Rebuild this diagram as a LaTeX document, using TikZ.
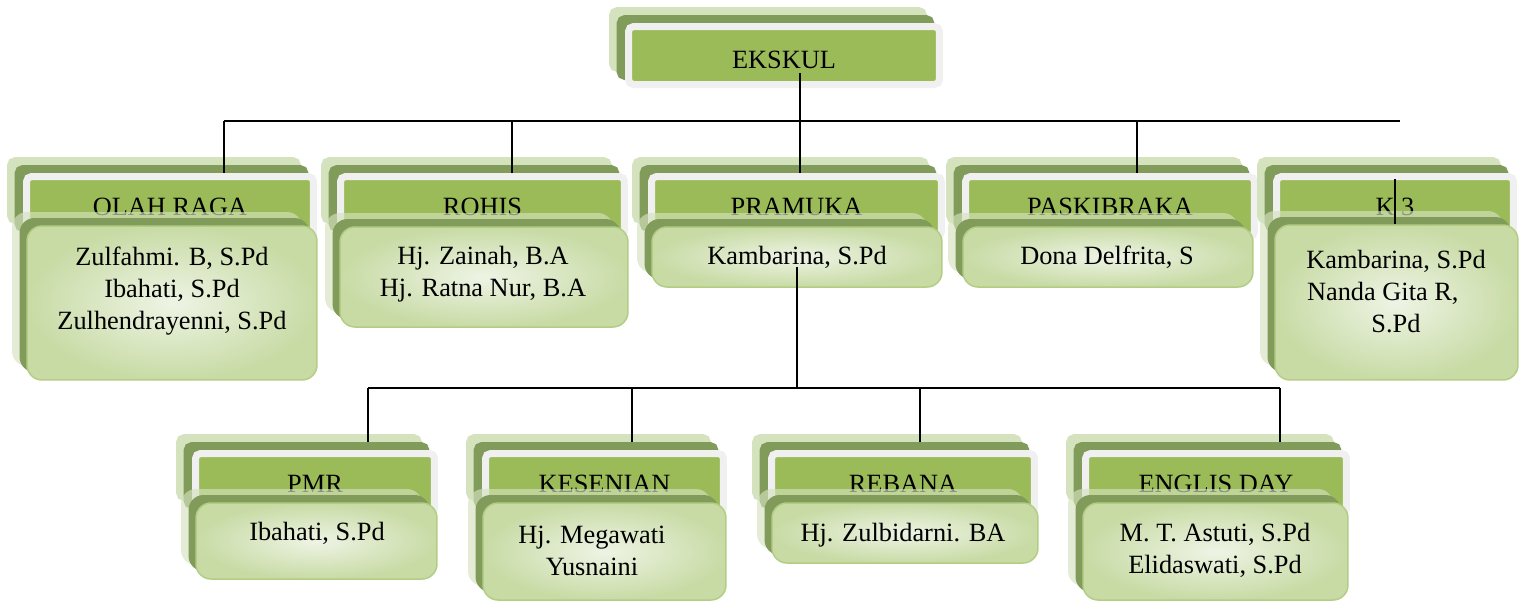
\documentclass[tikz,border=0pt]{standalone}
\usepackage{fontspec}
\setmainfont{Liberation Serif}
\usetikzlibrary{shadows}

\definecolor{titlegreen}{HTML}{9BBB59}
\definecolor{framegray}{HTML}{F0F0F0}
\definecolor{shadedark}{HTML}{809B5A}
\definecolor{shadelight}{HTML}{D5E2BE}
\definecolor{nameinner}{HTML}{EEF4E5}
\definecolor{nameouter}{HTML}{C8DBA5}
\definecolor{nameedge}{HTML}{B3CD85}

\begin{document}
\begin{tikzpicture}[x=0.02cm, y=-0.02cm,
	every node/.style={font=\fontsize{15}{18.2}\selectfont},
	titlebox/.style={rectangle, rounded corners=0.1cm, fill=titlegreen, draw=framegray, line width=0.14cm, minimum height=1.2cm, inner sep=0pt,
		general shadow={shadow xshift=-0.32cm, shadow yshift=0.32cm, fill=shadelight, draw=shadelight},
		general shadow={shadow xshift=-0.17cm, shadow yshift=0.16cm, fill=shadedark, draw=shadedark}},
	namebox/.style={rectangle, rounded corners=0.3cm, inner color=nameinner, outer color=nameouter, draw=nameedge, line width=0.03cm, inner sep=0pt,
		general shadow={shadow xshift=-0.3cm, shadow yshift=0.28cm, fill=shadelight, draw=none, opacity=0.65},
		general shadow={shadow xshift=-0.15cm, shadow yshift=0.16cm, fill=shadedark, draw=none}},
	nametext/.style={align=center, inner sep=0pt},
	link/.style={line width=0.035cm}]
	\useasboundingbox (0,0) rectangle (1525,603);

	\node[titlebox, minimum width=6.22cm, minimum height=1.16cm, text height=0.52cm] (ekskul) at (784,55.5) {EKSKUL};

	% first row
	\node[titlebox, minimum width=5.74cm] (olah) at (170,206.5) {OLAH RAGA};
	\node[namebox, minimum width=5.8cm, minimum height=3.08cm] (olahnames) at (172,303) {};
	\node[nametext] (olahtext) at (172,291.5) {Zulfahmi. B, S.Pd\\Ibahati, S.Pd\\Zulhendrayenni, S.Pd};

	\node[titlebox, minimum width=5.68cm] (rohis) at (482.5,206.5) {ROHIS};
	\node[namebox, minimum width=5.76cm, minimum height=2cm] (rohisnames) at (484,277) {};
	\node[nametext] (rohistext) at (483,274) {Hj. Zainah, B.A\\Hj. Ratna Nur, B.A};

	\node[titlebox, minimum width=5.8cm] (pramuka) at (796.5,206.5) {PRAMUKA};
	\node[namebox, minimum width=5.8cm, minimum height=1.2cm] (pramukanames) at (797,257) {};
	\node[nametext] (pramukatext) at (797,257) {Kambarina, S.Pd};

	\node[titlebox, minimum width=5.78cm] (paski) at (1110,206.5) {PASKIBRAKA};
	\node[namebox, minimum width=5.8cm, minimum height=1.2cm] (paskinames) at (1108,257) {};
	\node[nametext] (paskitext) at (1107,257) {Dona Delfrita, S};

	\node[titlebox, minimum width=4.74cm] (k3) at (1395,206.5) {K 3};
	\node[namebox, minimum width=4.86cm, minimum height=3.1cm] (k3names) at (1396.5,302.5) {};
	\node[nametext] (k3text) at (1396,291.5) {Kambarina, S.Pd\\Nanda Gita R,\hphantom{nn}\\S.Pd};

	% second row
	\node[titlebox, minimum width=4.78cm] (pmr) at (315,483.5) {PMR};
	\node[namebox, minimum width=4.82cm, minimum height=1.52cm] (pmrnames) at (316.5,541) {};
	\node[nametext] (pmrtext) at (317,533) {Ibahati, S.Pd};

	\node[titlebox, minimum width=4.76cm] (kesenian) at (604.5,483.5) {KESENIAN};
	\node[namebox, minimum width=4.86cm, minimum height=1.94cm] (kesenianames) at (604.5,551.5) {};
	\node[nametext] (keseniantext) at (592,551) {Hj. Megawati\\Yusnaini};

	\node[titlebox, minimum width=5.26cm] (rebana) at (903,483.5) {REBANA};
	\node[namebox, minimum width=5.32cm, minimum height=1.2cm] (rebananames) at (905,533) {};
	\node[nametext] (rebanatext) at (903,535) {Hj. Zulbidarni. BA};

	\node[titlebox, minimum width=5.22cm] (englis) at (1216,483.5) {ENGLIS DAY};
	\node[namebox, minimum width=5.3cm, minimum height=1.94cm] (englisnames) at (1215.5,551.5) {};
	\node[nametext] (englistext) at (1215,550) {M. T. Astuti, S.Pd\\Elidaswati, S.Pd};

	% lines
	\coordinate (busL) at (224,121);
	\coordinate (busR) at (1400,121);
	\coordinate (lowL) at (368,388);
	\coordinate (lowR) at (1280,388);
	\coordinate (ekskulfoot) at ([xshift=0.06cm, yshift=0.3cm]ekskul.south -| pramukanames.north);
	\coordinate (rohisjoin) at ([xshift=0.59cm]rohis.north);
	\coordinate (paskijoin) at ([xshift=0.54cm]paski.north);
	\coordinate (k3join) at ([yshift=-0.12cm]k3.north);
	\coordinate (pramukafoot) at ([yshift=-0.2cm]pramukanames.center);
	\coordinate (pmrjoin) at ([yshift=0.16cm]pmr.north);
	\coordinate (kesenianjoin) at ([xshift=0.55cm, yshift=0.16cm]kesenian.north);
	\coordinate (rebanajoin) at ([xshift=0.34cm, yshift=0.16cm]rebana.north);
	\coordinate (englisjoin) at ([yshift=0.16cm]englis.north);

	\draw[link] (busL) -- (busR);
	\draw[link] (ekskulfoot) -- (ekskulfoot |- pramuka.north);
	\draw[link] (busL) -- (busL |- olah.north);
	\draw[link] (rohisjoin) -- (rohisjoin |- busL);
	\draw[link] (paskijoin) -- (paskijoin |- busL);
	\draw[link] (k3join) -- (k3join |- k3names.north);
	\draw[link] (pramukafoot) -- (pramukafoot |- lowL);
	\draw[link] (lowL) -- (lowR);
	\draw[link] (lowL) -- (lowL |- pmrjoin);
	\draw[link] (kesenianjoin) -- (kesenianjoin |- lowL);
	\draw[link] (rebanajoin) -- (rebanajoin |- lowL);
	\draw[link] (lowR) -- (lowR |- englisjoin);
\end{tikzpicture}
\end{document}
